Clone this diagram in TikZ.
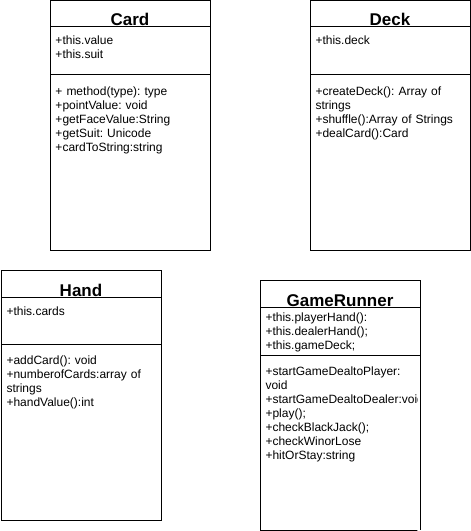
\documentclass[tikz,border=0pt]{standalone}
\usepackage{fontspec}
\setmainfont{Liberation Sans}
\frenchspacing
\begin{document}
\begin{tikzpicture}[x=1pt,y=-1pt]
    \tikzset{
        part/.style={draw, rectangle, line width=1pt, inner xsep=5.5pt, inner ysep=0pt, outer sep=0pt, text width=149pt, anchor=north west},
        classname/.style={part, align=center, font=\fontsize{17}{20}\selectfont\bfseries, text depth=1pt},
        members/.style={part, align=left, font=\fontsize{12}{14}\selectfont\frenchspacing}
    }
    \useasboundingbox (0,0) rectangle (471,531);

    \draw node[classname, text height=24.5pt] (card) at (50,0.5) {Card};
    \draw node[members, text height=18pt, text depth=30pt] (cardattr) at (50,26) {+this.value\\+this.suit};
    \draw node[members, text height=21pt, text depth=155pt] (cardops) at (50,74) {+ method(type): type\\+pointValue: void\\+getFaceValue:String\\+getSuit: Unicode\\+cardToString:string};

    \draw node[classname, text height=24.5pt] (deck) at (310,0.5) {Deck};
    \draw node[members, text height=18pt, text depth=30pt] (deckattr) at (310,26) {+this.deck};
    \draw node[members, text height=21pt, text depth=155pt] (deckops) at (310,74) {+createDeck(): Array of\\strings\\+shuffle():Array of Strings\\+dealCard():Card};

    \draw node[classname, text height=26pt] (hand) at (1,270) {Hand};
    \draw node[members, text height=18pt, text depth=29pt] (handattr) at (1,297) {+this.cards};
    \draw node[members, text height=20pt, text depth=156pt] (handops) at (1,344) {+addCard(): void\\+numberofCards:array of\\strings\\+handValue():int};

    \draw node[classname, text height=26pt] (game) at (260,280) {GameRunner};
    \draw node[members, text height=14pt, text depth=34pt] (gameattr) at (260,307) {+this.playerHand():\\+this.dealerHand();\\+this.gameDeck;};
    \begin{scope}
        \clip (255,350) rectangle (417.3,535);
        \draw node[members, text height=20pt, text depth=155pt] (gameops) at (260,355) {+startGameDealtoPlayer:\\void\\\leavevmode\rlap{+startGameDealtoDealer:void}\\+play();\\+checkBlackJack();\\+checkWinorLose\\+hitOrStay:string};
    \end{scope}
    \draw[line width=1pt] (gameops.north east) -- (gameops.south east);

\end{tikzpicture}
\end{document}
